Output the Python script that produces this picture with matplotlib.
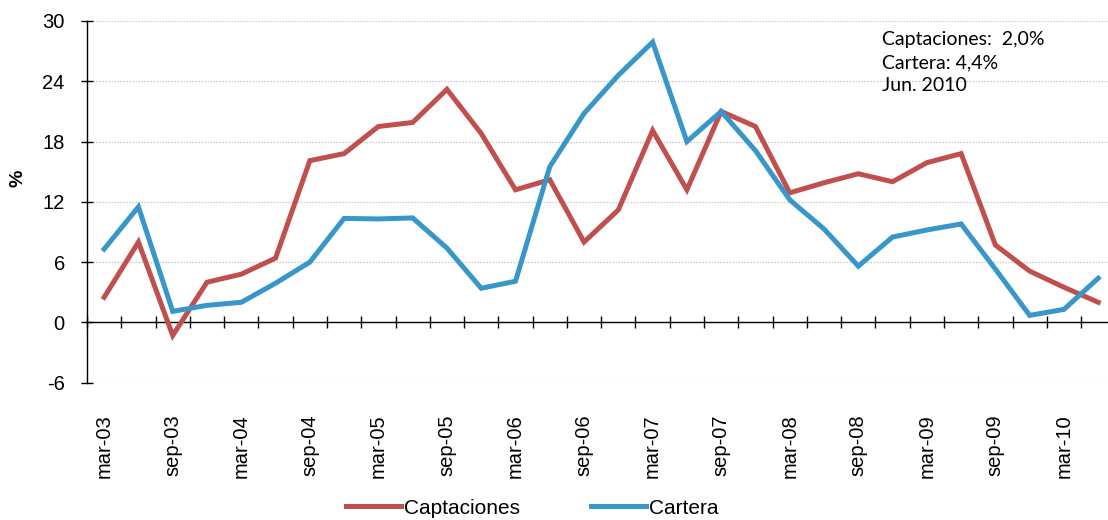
import matplotlib
matplotlib.use("Agg")
import matplotlib.pyplot as plt
import numpy as np

# Quarterly periods, March 2003 to June 2010
periods = ["mar-03", "jun-03", "sep-03", "dic-03",
           "mar-04", "jun-04", "sep-04", "dic-04",
           "mar-05", "jun-05", "sep-05", "dic-05",
           "mar-06", "jun-06", "sep-06", "dic-06",
           "mar-07", "jun-07", "sep-07", "dic-07",
           "mar-08", "jun-08", "sep-08", "dic-08",
           "mar-09", "jun-09", "sep-09", "dic-09",
           "mar-10", "jun-10"]

captaciones = [2.5, 8.0, -1.3, 4.0, 4.8, 6.4, 16.1, 16.8, 19.5, 19.9,
               23.2, 18.8, 13.2, 14.2, 8.0, 11.2, 19.1, 13.2, 21.0, 19.5,
               12.9, 13.9, 14.8, 14.0, 15.9, 16.8, 7.7, 5.1, 3.5, 2.0]

cartera = [7.3, 11.5, 1.1, 1.7, 2.0, 3.9, 6.0, 10.35, 10.3, 10.4,
           7.4, 3.4, 4.1, 15.5, 20.8, 24.6, 27.9, 18.0, 21.0, 17.1,
           12.2, 9.3, 5.6, 8.5, 9.2, 9.8, 5.3, 0.7, 1.3, 4.4]

y_ticks = [-6, 0, 6, 12, 18, 24, 30]

RED = "#C0504D"
BLUE = "#3896C8"

plt.rcParams["font.family"] = ["Liberation Sans", "DejaVu Sans"]

fig = plt.figure(figsize=(11.08, 5.2), dpi=100)
W, H = 1108, 520
n = len(periods)
step = 34.28
left_px, top_px, bottom_px = 87, 21, 382.7
ax = fig.add_axes([left_px / W, 1 - bottom_px / H,
                   n * step / W, (bottom_px - top_px) / H])

x = np.arange(n)
ax.plot(x, captaciones, color=RED, lw=3.6, solid_joinstyle="miter",
        label="Captaciones", zorder=3)
ax.plot(x, cartera, color=BLUE, lw=3.6, solid_joinstyle="miter",
        label="Cartera", zorder=3)

ax.set_xlim(-0.5, n - 0.5)
ax.set_ylim(-6, 30)
ax.set_yticks(y_ticks)
ax.set_yticklabels([str(v) for v in y_ticks], fontsize=14.5)
ax.tick_params(axis="y", direction="inout", length=8, width=1, pad=12)

ax.yaxis.grid(True, color="#C8C8C8", linestyle=(0, (1.2, 1.2)), linewidth=0.9)
ax.set_axisbelow(True)

for s in ("top", "right"):
    ax.spines[s].set_visible(False)
ax.spines["left"].set_linewidth(1)
ax.spines["bottom"].set_position(("data", 0))
ax.spines["bottom"].set_linewidth(1)

# category boundary ticks on the zero axis
ax.set_xticks(np.arange(n + 1) - 0.5)
ax.set_xticklabels([])
ax.tick_params(axis="x", direction="inout", length=9, width=1)

# period labels along the bottom of the plot area
lab = ax.secondary_xaxis(0.0)
lab.spines["bottom"].set_visible(False)
idx = list(range(0, n, 2))
lab.set_xticks(idx)
lab.set_xticklabels([periods[i] for i in idx], rotation=90, fontsize=14.5)
lab.tick_params(axis="x", length=0, pad=23)

fig.text(18 / W, 1 - 178 / H, "%", rotation=90, fontsize=14,
         fontweight="bold", ha="center", va="center")

note = "Captaciones:  {:.1f}%\nCartera: {:.1f}%\nJun. 2010".format(
    captaciones[-1], cartera[-1])
note = note.replace("2.0%", "2,0%").replace("4.4%", "4,4%")
ax.text(0.773, 0.972, note,
        transform=ax.transAxes, fontsize=14, family=["Lato", "DejaVu Sans"],
        ha="left", va="top", linespacing=1.42)

fig.legend(loc="center", bbox_to_anchor=(0.48, 0.023), ncol=2, frameon=False,
           fontsize=15, handlelength=2.64, handletextpad=0.15,
           columnspacing=3.4)

fig.savefig("out.png", dpi=100)
